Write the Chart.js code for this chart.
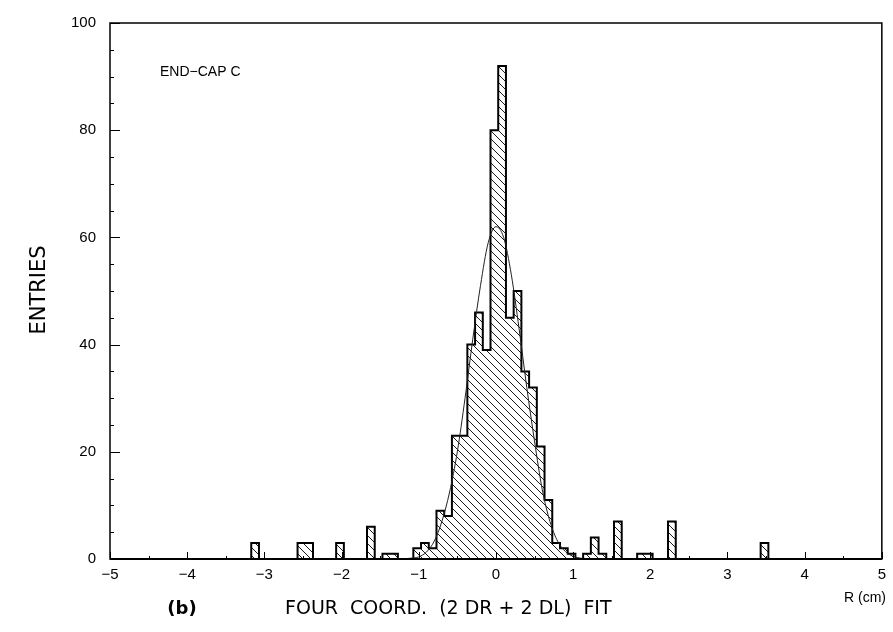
<!DOCTYPE html>
<html>
<head>
<meta charset="utf-8">
<script src="https://cdn.jsdelivr.net/npm/chart.js@4.4.0/dist/chart.umd.min.js"></script>
<style>
  html, body { margin: 0; padding: 0; background: #fff; }
  #wrap { width: 893px; height: 632px; }
</style>
</head>
<body>
<div id="wrap"><canvas id="hist" width="893" height="632"></canvas></div>
<script>
// residuals histogram, 100 bins of 0.1 cm (edges sit slightly right of the round values)
var binStart = -4.97;
var binWidth = 0.1;
var counts = [
    0, 0, 0, 0, 0, 0, 0, 0, 0, 0,      // -5.0 .. -4.1
    0, 0, 0, 0, 0, 0, 0, 0, 3, 0,      // -4.0 .. -3.1
    0, 0, 0, 0, 3, 3, 0, 0, 0, 3,      // -3.0 .. -2.1
    0, 0, 0, 6, 0, 1, 1, 0, 0, 2,      // -2.0 .. -1.1
    3, 2, 9, 8, 23, 23, 40, 46, 39, 80, // -1.0 .. -0.1
    92, 45, 50, 35, 32, 21, 11, 3, 2, 1, //  0.0 ..  0.9
    0, 1, 4, 1, 0, 7, 0, 0, 1, 1,      //  1.0 ..  1.9
    0, 0, 7, 0, 0, 0, 0, 0, 0, 0,      //  2.0 ..  2.9
    0, 0, 0, 0, 3, 0, 0, 0, 0, 0,      //  3.0 ..  3.9
    0, 0, 0, 0, 0, 0, 0, 0, 0, 0       //  4.0 ..  4.9
];

// gaussian fit curve, sampled
var fitX = [-1.3, -1.2, -1.1, -1.0, -0.9, -0.8, -0.7, -0.6, -0.5, -0.4, -0.3, -0.2, -0.1,
            0.0, 0.1, 0.2, 0.3, 0.4, 0.5, 0.6, 0.7, 0.8, 0.9, 1.0, 1.1, 1.2, 1.3];
var fitY = [0, 0.05, 0.15, 0.4, 1.3, 3.3, 7, 12.5, 20, 30, 41, 51, 59,
            62, 60, 53, 43, 32, 22, 13, 7, 3.3, 1.4, 0.5, 0.15, 0.05, 0];

var xTicks = [-5, -4, -3, -2, -1, 0, 1, 2, 3, 4, 5];
var yTicks = [0, 20, 40, 60, 80, 100];

var barPoints = counts.map(function (c, i) {
    return { x: binStart + binWidth * (i + 0.5), y: c };
});
// outline of the histogram as a step line over the bin edges
var outline = counts.map(function (c, i) {
    return { x: binStart + binWidth * i, y: c };
});
outline.push({ x: binStart + binWidth * counts.length, y: counts[counts.length - 1] });

var fitPoints = fitX.map(function (x, i) { return { x: x, y: fitY[i] }; });

function makeHatch() {
    var c = document.createElement('canvas');
    c.width = 8; c.height = 8;
    var g = c.getContext('2d');
    g.strokeStyle = '#1a1a1a';
    g.lineWidth = 1;
    g.beginPath();
    g.moveTo(0, 0); g.lineTo(8, 8);
    g.moveTo(-2, 6); g.lineTo(2, 10);
    g.moveTo(6, -2); g.lineTo(10, 2);
    g.stroke();
    return g.createPattern(c, 'repeat');
}

function minusLabel(v) {
    return v < 0 ? '\u2212' + Math.abs(v) : String(v);
}

var frame = {
    id: 'frame',
    afterDatasetsDraw: function (chart) {
        var a = chart.chartArea, ctx = chart.ctx;
        var xs = chart.scales.x, ys = chart.scales.y;
        ctx.save();
        ctx.strokeStyle = '#000';
        ctx.lineWidth = 1.5;
        ctx.strokeRect(a.left, a.top, a.right - a.left, a.bottom - a.top);
        ctx.lineWidth = 2;
        ctx.beginPath();
        ctx.moveTo(a.left, a.bottom); ctx.lineTo(a.right, a.bottom);
        ctx.stroke();

        // inward ticks
        ctx.lineWidth = 1;
        ctx.beginPath();
        for (var v = 0; v <= 100; v += 5) {
            var py = Math.round(ys.getPixelForValue(v)) + 0.5;
            var len = (v % 20 === 0) ? 10 : 4;
            ctx.moveTo(a.left, py); ctx.lineTo(a.left + len, py);
        }
        for (var t = -10; t <= 10; t++) {
            var px = Math.round(xs.getPixelForValue(t / 2)) + 0.5;
            var l = (t % 2 === 0) ? 7 : 3;
            ctx.moveTo(px, a.bottom); ctx.lineTo(px, a.bottom - l);
        }
        ctx.stroke();
        ctx.restore();
    }
};

var captions = {
    id: 'captions',
    afterDraw: function (chart) {
        var ctx = chart.ctx;
        ctx.save();
        ctx.fillStyle = '#000';
        ctx.textBaseline = 'middle';

        ctx.font = '14px "Liberation Sans", Arial, sans-serif';
        ctx.textAlign = 'left';
        ctx.fillText('END\u2212CAP C', 160, 72);

        ctx.textAlign = 'right';
        ctx.fillText('R (cm)', 886, 598);

        ctx.font = 'bold 18px "DejaVu Sans", sans-serif';
        ctx.textAlign = 'center';
        ctx.fillText('(b)', 182, 609);

        ctx.font = '19px "DejaVu Sans", sans-serif';
        ctx.textAlign = 'left';
        ctx.fillText('FOUR  COORD.  (2 DR + 2 DL)  FIT', 285, 609, 336);

        ctx.translate(40, 290);
        ctx.rotate(-Math.PI / 2);
        ctx.textAlign = 'center';
        ctx.font = '21px "DejaVu Sans", sans-serif';
        ctx.fillText('ENTRIES', 0, 0);
        ctx.restore();
    }
};

var ctx = document.getElementById('hist').getContext('2d');
var chart = new Chart(ctx, {
    type: 'bar',
    data: {
        datasets: [
            {
                type: 'line',
                data: fitPoints,
                borderColor: '#222',
                borderWidth: 1,
                pointRadius: 0,
                tension: 0.4,
                cubicInterpolationMode: 'monotone',
                order: 0
            },
            {
                type: 'line',
                data: outline,
                stepped: 'before',
                borderColor: '#000',
                borderWidth: 2,
                pointRadius: 0,
                fill: false,
                order: 1
            },
            {
                type: 'bar',
                data: barPoints,
                backgroundColor: makeHatch(),
                borderWidth: 0,
                barPercentage: 1,
                categoryPercentage: 1,
                order: 2
            }
        ]
    },
    options: {
        responsive: false,
        animation: false,
        devicePixelRatio: 1,
        layout: { padding: { left: 0, right: 9, top: 18, bottom: 0 } },
        plugins: {
            legend: { display: false },
            tooltip: { enabled: false }
        },
        scales: {
            x: {
                type: 'linear',
                min: -5,
                max: 5,
                offset: false,
                grid: { display: false, drawTicks: false, offset: false },
                border: { display: false },
                afterBuildTicks: function (scale) {
                    scale.ticks = xTicks.map(function (v) { return { value: v }; });
                },
                afterFit: function (scale) { scale.height = 73; },
                ticks: {
                    padding: 7,
                    maxRotation: 0,
                    autoSkip: false,
                    color: '#000',
                    font: { family: '"Liberation Sans", Arial, sans-serif', size: 15 },
                    callback: function (v) { return minusLabel(v); }
                }
            },
            y: {
                min: 0,
                max: 100,
                grid: { display: false, drawTicks: false },
                border: { display: false },
                afterBuildTicks: function (scale) {
                    scale.ticks = yTicks.map(function (v) { return { value: v }; });
                },
                afterFit: function (scale) { scale.width = 110; },
                ticks: {
                    padding: 14,
                    color: '#000',
                    font: { family: '"Liberation Sans", Arial, sans-serif', size: 15 }
                }
            }
        }
    },
    plugins: [frame, captions]
});
</script>
</body>
</html>
